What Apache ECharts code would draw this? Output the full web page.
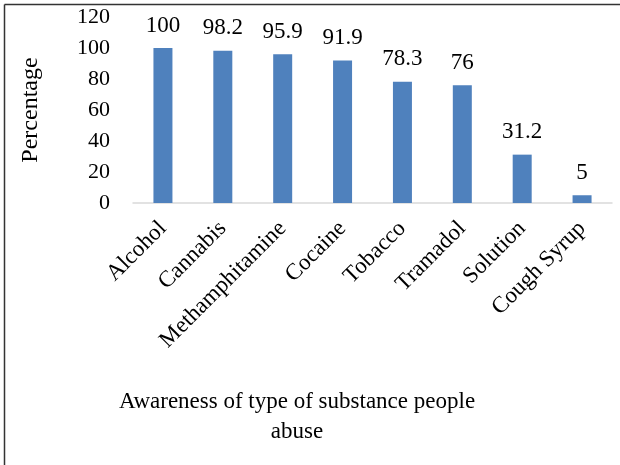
<!DOCTYPE html>
<html>
<head>
<meta charset="utf-8">
<script src="https://cdn.jsdelivr.net/npm/echarts@6/dist/echarts.min.js"></script>
<style>
  html, body { margin: 0; padding: 0; background: #fff; }
  #chart { width: 620px; height: 465px; }
</style>
</head>
<body>
<div id="chart"></div>
<script>
var substances = ['Alcohol', 'Cannabis', 'Methamphitamine', 'Cocaine', 'Tobacco', 'Tramadol', 'Solution', 'Cough Syrup']
var awareness = [100, 98.2, 95.9, 91.9, 78.3, 76, 31.2, 5]
var yTicks = [0, 20, 40, 60, 80, 100, 120]

var font = 'Liberation Serif'
var myChart = echarts.init(document.getElementById('chart'))
var option = {
  backgroundColor: '#fff',
  animation: false,
  title: {
    text: 'Awareness of type of substance people\nabuse',
    left: 292,
    top: 382,
    textAlign: 'center',
    textStyle: {
      fontFamily: font,
      fontWeight: 'normal',
      fontSize: 23,
      color: '#000',
      lineHeight: 30
    }
  },
  graphic: [
    { type: 'line', shape: { x1: 4.5, y1: 4.5, x2: 620, y2: 4.5 }, style: { stroke: '#333', lineWidth: 1.5 } },
    { type: 'line', shape: { x1: 4.5, y1: 4.5, x2: 4.5, y2: 465 }, style: { stroke: '#333', lineWidth: 1.5 } }
  ],
  grid: {
    left: 133,
    right: 8,
    top: 17,
    bottom: 262
  },
  xAxis: {
    type: 'category',
    data: substances,
    axisLine: { lineStyle: { color: '#d9d9d9', width: 1.5 } },
    axisTick: { show: false },
    axisLabel: {
      interval: 0,
      rotate: 45,
      margin: 22,
      fontFamily: font,
      fontSize: 23,
      color: '#000'
    }
  },
  yAxis: {
    type: 'value',
    min: yTicks[0],
    max: yTicks[yTicks.length - 1],
    interval: 20,
    name: 'Percentage',
    nameLocation: 'middle',
    nameGap: 90,
    nameTextStyle: { fontFamily: font, fontSize: 24, color: '#000' },
    axisLine: { show: false },
    axisTick: { show: false },
    splitLine: { show: false },
    axisLabel: { fontFamily: font, fontSize: 22, color: '#000', margin: 23 }
  },
  series: [{
    type: 'bar',
    data: awareness,
    barWidth: 19,
    itemStyle: { color: '#4f81bd' },
    label: {
      show: true,
      position: 'top',
      distance: 11,
      fontFamily: font,
      fontSize: 23,
      color: '#000'
    }
  }]
}
myChart.setOption(option)
</script>
</body>
</html>
